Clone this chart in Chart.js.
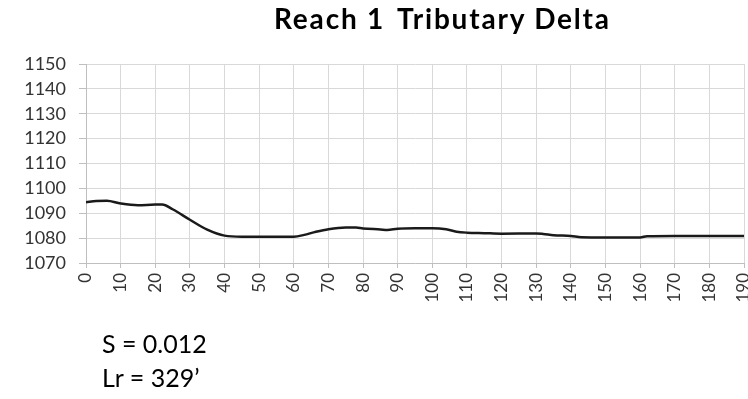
<!DOCTYPE html>
<html>
<head>
<meta charset="utf-8">
<script src="https://cdn.jsdelivr.net/npm/chart.js@4"></script>
<style>
  html, body { margin: 0; padding: 0; background: #fff; overflow: hidden; }
  #wrap { position: relative; width: 748px; height: 399px; overflow: hidden; }
  #chart { position: absolute; left: 0; top: 0; }
  .txt { position: absolute; font-family: Lato, "Open Sans", sans-serif; line-height: 1; white-space: pre; color: #000; }
  .title { top: 4px; font-size: 28px; font-weight: bold; letter-spacing: 1.8px; }
  #t1 { left: 274px; }
  #t2 { left: 397px; }
  #s { left: 102px; top: 331px; font-size: 25px; }
  #lr { left: 102px; top: 365px; font-size: 25px; }
</style>
</head>
<body>
<div id="wrap">
  <canvas id="chart" width="760" height="399"></canvas>
  <div class="txt title" id="t1">Reach 1</div>
  <div class="txt title" id="t2">Tributary Delta</div>
  <div class="txt" id="s">S = 0.012</div>
  <div class="txt" id="lr">Lr = 329’</div>
</div>
<script>
// Longitudinal profile: distance along the reach (ft) and bed elevation (ft)
const distance = [0, 3, 6, 10, 15, 20, 22, 25, 30, 35, 40, 45, 60, 63, 66, 70, 75, 78, 80, 85, 87, 90, 95, 100, 104, 107, 110, 115, 120, 130, 132, 135, 140, 143, 150, 160, 162, 170, 190];
const elevation = [1094.4, 1094.9, 1095.0, 1093.9, 1093.2, 1093.5, 1093.5, 1091.6, 1087.4, 1083.4, 1081.0, 1080.6, 1080.6, 1081.3, 1082.4, 1083.6, 1084.3, 1084.3, 1083.9, 1083.5, 1083.3, 1083.8, 1084.0, 1084.0, 1083.6, 1082.6, 1082.2, 1082.0, 1081.8, 1081.9, 1081.7, 1081.2, 1080.9, 1080.4, 1080.3, 1080.3, 1080.8, 1080.9, 1080.9];

// Axis tick labels
const xTicks = [0, 10, 20, 30, 40, 50, 60, 70, 80, 90, 100, 110, 120, 130, 140, 150, 160, 170, 180, 190];
const yTicks = [1070, 1080, 1090, 1100, 1110, 1120, 1130, 1140, 1150];

const points = distance.map((d, i) => ({ x: d, y: elevation[i] }));

Chart.defaults.font.family = 'Lato, "Open Sans", sans-serif';

new Chart(document.getElementById('chart'), {
  type: 'line',
  data: {
    datasets: [{
      data: points,
      borderColor: '#1a1a1a',
      borderWidth: 2.5,
      pointRadius: 0,
      cubicInterpolationMode: 'monotone',
      fill: false
    }]
  },
  options: {
    responsive: false,
    animation: false,
    devicePixelRatio: 1,
    layout: { padding: { top: 64, right: 16, left: 0, bottom: 0 } },
    plugins: { legend: { display: false }, tooltip: { enabled: false } },
    scales: {
      x: {
        type: 'linear',
        min: xTicks[0],
        max: xTicks[xTicks.length - 1],
        afterBuildTicks: s => { s.ticks = xTicks.map(v => ({ value: v })); },
        afterFit: s => { s.height = 136; s.paddingLeft = 0; s.paddingRight = 0; },
        ticks: {
          autoSkip: false,
          minRotation: 90,
          maxRotation: 90,
          padding: 5,
          color: '#333',
          font: { size: 17 },
          callback: v => String(v)
        },
        grid: { color: '#d9d9d9', tickColor: '#bfbfbf', tickLength: 5, lineWidth: 1 },
        border: { color: '#bfbfbf' }
      },
      y: {
        min: yTicks[0],
        max: yTicks[yTicks.length - 1],
        afterBuildTicks: s => {
          const t = [];
          for (let v = yTicks[0]; v <= yTicks[yTicks.length - 1]; v += 5) t.push({ value: v });
          s.ticks = t;
        },
        afterFit: s => { s.width = 86; s.paddingTop = 0; s.paddingBottom = 0; },
        ticks: {
          padding: 13,
          color: '#333',
          font: { size: 18 },
          callback: v => (yTicks.includes(v) ? String(v) : '')
        },
        grid: {
          color: ctx => (ctx.tick && yTicks.includes(ctx.tick.value) ? '#d9d9d9' : 'rgba(0,0,0,0)'),
          tickColor: '#bfbfbf',
          tickLength: 7,
          lineWidth: 1
        },
        border: { color: '#bfbfbf' }
      }
    }
  }
});
</script>
</body>
</html>
